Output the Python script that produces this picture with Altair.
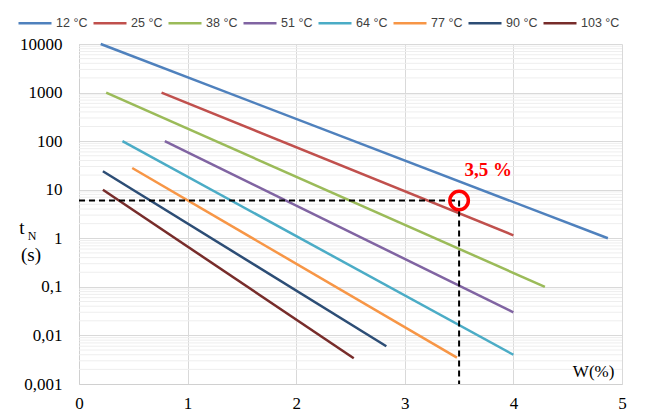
import altair as alt
import pandas as pd

temps = ["12 °C", "25 °C", "38 °C", "51 °C", "64 °C", "77 °C", "90 °C", "103 °C"]
colors = ["#4F81BD", "#C0504D", "#9BBB59", "#8064A2", "#4BACC6", "#F79646", "#2C4D75", "#772C2A"]
w_start = [0.20, 0.76, 0.25, 0.79, 0.40, 0.49, 0.22, 0.22]
t_start = [10000, 1000, 1000, 100, 100, 28, 24, 10]
w_end = [4.87, 4.00, 4.29, 4.00, 4.00, 3.48, 2.83, 2.53]
t_end = [1.0, 1.15, 0.1, 0.03, 0.004, 0.0035, 0.006, 0.0034]

x_ticks = [0, 1, 2, 3, 4, 5]
y_ticks = [0.001, 0.01, 0.1, 1, 10, 100, 1000, 10000]
minor_y = [m * d for d in [0.001, 0.01, 0.1, 1, 10, 100, 1000] for m in range(2, 10)]

mark_w = 3.5
mark_t = 6.0

rows = []
for i, t in enumerate(temps):
    rows.append({"temp": t, "W": w_start[i], "tN": t_start[i], "o": 0})
    rows.append({"temp": t, "W": w_end[i], "tN": t_end[i], "o": 1})
df = pd.DataFrame(rows)

xs = alt.Scale(domain=[0, 5], nice=False, zero=False)
ys = alt.Scale(type="log", domain=[0.001, 10000], nice=False)

serif = "Liberation Serif"

x_axis = alt.Axis(
    values=x_ticks, title=None, ticks=False, labelFont=serif, labelFontSize=17,
    labelColor="black", labelPadding=11, domainColor="#d0d0d0", gridColor="#d9d9d9",
    labelFlush=False, format="d")
y_axis = alt.Axis(
    values=y_ticks, title=None, ticks=False, labelFont=serif, labelFontSize=17,
    labelColor="black", labelPadding=17, domainColor="#d0d0d0", gridColor="#d9d9d9",
    labelFlush=False,
    labelExpr="datum.value >= 1 ? format(datum.value, 'd') : replace(format(datum.value, '.3~f'), '.', ',')")


def X(f):
    return alt.X(f, scale=xs, axis=x_axis)


def Y(f):
    return alt.Y(f, scale=ys, axis=y_axis)


minor = alt.Chart(pd.DataFrame({"v": minor_y})).mark_rule(
    color="#eeeeee", strokeWidth=1
).encode(y=Y("v:Q"))

lines = alt.Chart(df).mark_line(strokeWidth=2.5).encode(
    x=X("W:Q"),
    y=Y("tN:Q"),
    color=alt.Color("temp:N", sort=temps, scale=alt.Scale(domain=temps, range=colors),
                    legend=alt.Legend(
                        title=None, orient="none", legendX=-62, legendY=-39,
                        direction="horizontal", columns=8,
                        symbolType="stroke",
                        symbolSize=1089, symbolStrokeWidth=2.5, labelOffset=3,
                        columnPadding=0, padding=0,
                        labelFont="Liberation Sans",
                        labelFontSize=12.5, labelColor="#404040")),
    order="o:Q",
    detail="temp:N",
)

dash_df = pd.DataFrame({
    "x": [0, mark_w], "x2": [mark_w, mark_w],
    "y": [mark_t, mark_t], "y2": [mark_t, 0.001],
})
dashes = alt.Chart(dash_df).mark_rule(color="black", strokeWidth=2, strokeDash=[6, 4]).encode(
    x=X("x:Q"), x2="x2:Q", y=Y("y:Q"), y2="y2:Q"
)

pt = alt.Chart(pd.DataFrame({"W": [mark_w], "tN": [mark_t]})).mark_point(
    shape="circle", filled=False, stroke="#FF0000", strokeWidth=3.5, size=342, opacity=1
).encode(x=X("W:Q"), y=Y("tN:Q"))

lbl = alt.Chart(pd.DataFrame({"W": [3.55], "tN": [26], "s": ["3,5 %"]})).mark_text(
    font=serif, fontSize=19, fontWeight="bold", color="#FF0000", align="left", baseline="middle"
).encode(x=X("W:Q"), y=Y("tN:Q"), text="s:N")

wlbl = alt.Chart(pd.DataFrame({"W": [4.93], "tN": [0.0018], "s": ["W(%)"]})).mark_text(
    font=serif, fontSize=17, color="black", align="right", baseline="middle"
).encode(x=X("W:Q"), y=Y("tN:Q"), text="s:N")

t_lbl = alt.Chart(pd.DataFrame({"s": ["t"]})).mark_text(
    font=serif, fontSize=19, color="black", align="center", baseline="middle"
).encode(x=alt.value(-57), y=alt.value(184), text="s:N")
n_lbl = alt.Chart(pd.DataFrame({"s": ["N"]})).mark_text(
    font=serif, fontSize=12, color="black", align="center", baseline="middle"
).encode(x=alt.value(-47), y=alt.value(192), text="s:N")
s_lbl = alt.Chart(pd.DataFrame({"s": ["(s)"]})).mark_text(
    font=serif, fontSize=19, color="black", align="center", baseline="middle"
).encode(x=alt.value(-48), y=alt.value(211), text="s:N")

chart = alt.layer(minor, lines, dashes, pt, lbl, wlbl, t_lbl, n_lbl, s_lbl).properties(
    width=543, height=340,
    autosize=alt.AutoSizeParams(type="none"),
    padding={"left": 71, "top": 36, "right": 22, "bottom": 33},
).configure_view(stroke=None)

chart.save("out.html", embed_options={"renderer": "svg", "actions": False})
